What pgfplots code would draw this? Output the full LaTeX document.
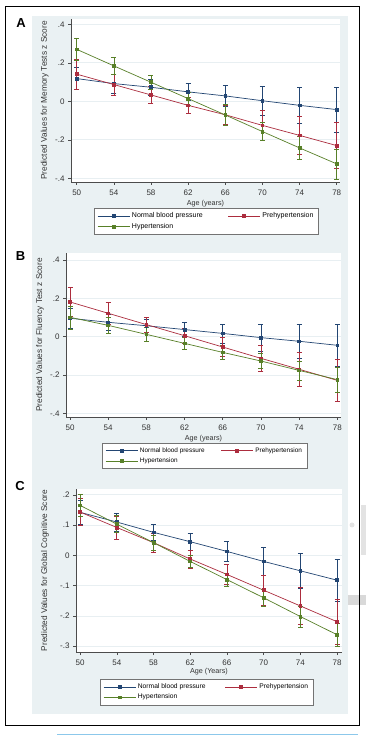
\documentclass[border=0pt]{standalone}
\usepackage{fontspec}
\setmainfont{Liberation Sans}
\usepackage{pgfplots}
\pgfplotsset{compat=1.18}
\definecolor{bgc}{RGB}{234,241,243}
\definecolor{grd}{RGB}{232,239,242}
\definecolor{cN}{RGB}{35,70,115}
\definecolor{cP}{RGB}{172,45,62}
\definecolor{cH}{RGB}{88,128,40}
\definecolor{lblue}{RGB}{140,200,235}
\pgfplotsset{
 stata/.style={
  scale only axis,
  anchor=north west,
  axis x line*=bottom, axis y line*=left,
  axis line style={black!70, line width=0.5pt},
  tick align=outside, major tick length=3pt,
  tick style={black!70, line width=0.5pt},
  axis background/.style={fill=white},
  ymajorgrids, grid style={grd, line width=0.7pt},
  xtick={50,54,58,62,66,70,74,78},
  tick label style={font=\fontsize{8}{9}\selectfont, text=black!80},
  xticklabel style={yshift=-1pt},
  /pgf/number format/assume math mode=true,
  x label style={font=\fontsize{7.2}{8}\selectfont, text=black!80},
  y label style={font=\fontsize{8.3}{9}\selectfont, text=black!80},
  every axis plot/.append style={line width=0.7pt, mark=square*, mark size=1.4pt,
     /pgfplots/error bars/y dir=both, /pgfplots/error bars/y explicit,
     /pgfplots/error bars/error bar style={line width=0.6pt},
     /pgfplots/error bars/error mark options={rotate=90, mark size=2.5pt, line width=0.6pt}},
  legend cell align=left,
  legend image code/.code={\draw[mark repeat=2,mark phase=2,#1] plot coordinates {(0pt,0pt) (16pt,0pt) (32pt,0pt)};},
  legend style={draw=black!55, fill=white, line width=0.5pt, font=\fontsize{7}{8}\selectfont,
     legend columns=2, anchor=north west, inner xsep=3pt, inner ysep=2.5pt},
 }
}
\begin{document}
\begin{tikzpicture}[x=1pt,y=1pt]
\path[use as bounding box] (0,0) rectangle (366,735);
% background
\fill[bgc] (32,735-714) rectangle (348,735-16);
\fill[gray!30] (348,735-605) rectangle (366,735-595);
\fill[gray!22] (361,735-555) rectangle (366,735-505);
\fill[gray!22] (352,735-525) circle (2.5);
\draw[black, line width=1pt] (5,735-726) rectangle (359,735-7);
\draw[lblue, line width=1pt] (57,0.6) -- (358,0.6);
% panel labels
\node[font=\bfseries\fontsize{13}{13}\selectfont] at (21,735-23) {A};
\node[font=\bfseries\fontsize{13}{13}\selectfont] at (20.5,735-256.5) {B};
\node[font=\bfseries\fontsize{13}{13}\selectfont] at (20,735-486) {C};

% ---------------- Panel A
\begin{axis}[stata, at={(71pt,716pt)}, width=269pt, height=163pt,
  xmin=49.386, xmax=78.355, ymin=-0.419, ymax=0.4275,
  ytick={-0.4,-0.2,0,0.2,0.4}, yticklabels={-.4,-.2,0,.2,.4},
  xlabel={Age (years)}, ylabel={Predicted Values for Memory Tests z Score},
  x label style={at={(axis description cs:0.5,-0.135)}, anchor=center},
  y label style={at={(axis description cs:-0.098,0.5)}, anchor=center},
  legend style={at={(axis description cs:0.0855,-0.1595)}, font=\fontsize{7}{8}\selectfont,
     /tikz/every even column/.append style={column sep=23pt}}]
\addplot[color=cN] table[x index=0, y index=1, y error index=2] {
50 0.118 0.058
54 0.092 0.048
58 0.073 0.042
62 0.049 0.042
66 0.028 0.055
70 0.003 0.075
74 -0.021 0.095
78 -0.043 0.116
};
\addplot[color=cP] table[x index=0, y index=1, y error index=2] {
50 0.141 0.078
54 0.087 0.055
58 0.033 0.045
62 -0.021 0.043
66 -0.070 0.050
70 -0.125 0.078
74 -0.177 0.100
78 -0.230 0.120
};
\addplot[color=cH] table[x index=0, y index=1, y error index=2] {
50 0.270 0.057
54 0.184 0.044
58 0.099 0.035
62 0.014 0.033
66 -0.071 0.055
70 -0.157 0.046
74 -0.242 0.060
78 -0.325 0.078
};
\legend{Normal blood pressure, Prehypertension, Hypertension}
\end{axis}

% ---------------- Panel B
\begin{axis}[stata, at={(66pt,482pt)}, width=275pt, height=164pt,
  xmin=49.58, xmax=78.39, ymin=-0.419, ymax=0.4365,
  ytick={-0.4,-0.2,0,0.2,0.4}, yticklabels={-.4,-.2,0,.2,.4},
  xlabel={Age (years)}, ylabel={Predicted Values for Fluency Test z Score},
  x label style={at={(axis description cs:0.5,-0.134)}, anchor=center},
  y label style={at={(axis description cs:-0.0945,0.5)}, anchor=center},
  legend style={at={(axis description cs:0.131,-0.1585)}, font=\fontsize{6.4}{7.5}\selectfont,
     /tikz/every even column/.append style={column sep=14pt}}]
\addplot[color=cN] table[x index=0, y index=1, y error index=2] {
50 0.096 0.050
54 0.075 0.040
58 0.057 0.035
62 0.037 0.036
66 0.017 0.049
70 -0.005 0.069
74 -0.024 0.087
78 -0.045 0.108
};
\addplot[color=cP] table[x index=0, y index=1, y error index=2] {
50 0.181 0.075
54 0.122 0.055
58 0.063 0.040
62 0.005 0.040
66 -0.054 0.050
70 -0.113 0.066
74 -0.170 0.087
78 -0.228 0.108
};
\addplot[color=cH] table[x index=0, y index=1, y error index=2] {
50 0.101 0.060
54 0.059 0.040
58 0.012 0.035
62 -0.035 0.030
66 -0.082 0.035
70 -0.127 0.040
74 -0.176 0.050
78 -0.224 0.066
};
\legend{Normal blood pressure, Prehypertension, Hypertension}
\end{axis}

% ---------------- Panel C
\begin{axis}[stata, at={(76pt,246pt)}, width=266pt, height=163pt,
  xmin=49.56, xmax=78.54, ymin=-0.319, ymax=0.219,
  ytick={-0.3,-0.2,-0.1,0,0.1,0.2}, yticklabels={-.3,-.2,-.1,0,.1,.2},
  xlabel={Age (Years)}, ylabel={Predicted Values for Global Cognitive Score},
  x label style={at={(axis description cs:0.5,-0.123)}, anchor=center},
  y label style={at={(axis description cs:-0.1165,0.5)}, anchor=center},
  legend style={at={(axis description cs:0.090,-0.1656)}, font=\fontsize{6.7}{8}\selectfont,
     /tikz/every even column/.append style={column sep=17pt}}]
\addplot[color=cN] table[x index=0, y index=1, y error index=2] {
50 0.142 0.040
54 0.110 0.030
58 0.076 0.026
62 0.045 0.028
66 0.013 0.034
70 -0.020 0.047
74 -0.051 0.059
78 -0.082 0.069
};
\addplot[color=cP] table[x index=0, y index=1, y error index=2] {
50 0.143 0.045
54 0.092 0.038
58 0.042 0.032
62 -0.012 0.030
66 -0.063 0.034
70 -0.115 0.049
74 -0.167 0.060
78 -0.219 0.075
};
\addplot[color=cH] table[x index=0, y index=1, y error index=2] {
50 0.165 0.035
54 0.103 0.028
58 0.042 0.025
62 -0.020 0.020
66 -0.080 0.022
70 -0.140 0.027
74 -0.202 0.035
78 -0.262 0.038
};
\legend{Normal blood pressure, Prehypertension, Hypertension}
\end{axis}
\end{tikzpicture}
\end{document}
